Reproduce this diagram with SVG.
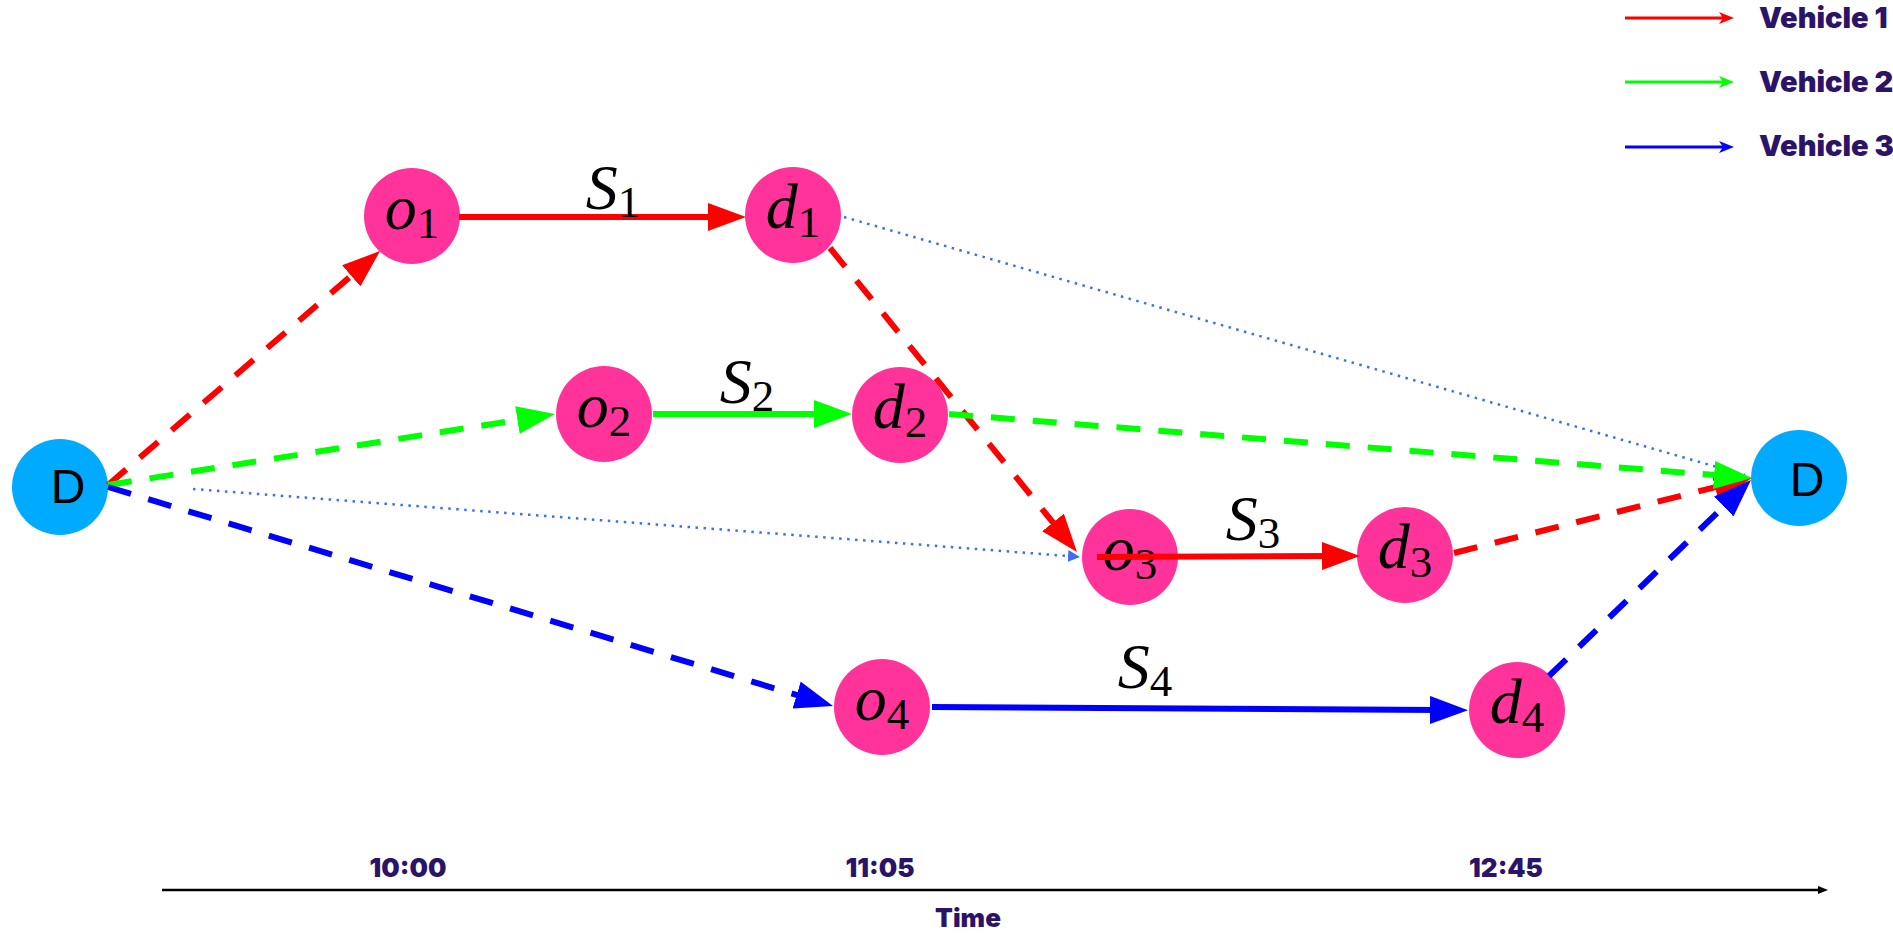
<svg xmlns="http://www.w3.org/2000/svg" width="1893" height="933" viewBox="0 0 1893 933">
<style>
.node{fill:#FF3399}
.depot{fill:#00AAFF}
.m{font-family:"Liberation Serif",serif;font-style:italic;font-size:64px;fill:#000}
.sub{font-style:normal;font-size:45px}
.dl{font-family:"Liberation Sans",Arial,sans-serif;font-size:48px;fill:#000;text-anchor:middle}
.ui{font-family:Inter,"Open Sans",sans-serif;font-weight:900;font-size:26px;fill:#2B1467}
.lg{font-size:29px}
.dash{fill:none;stroke-width:6;stroke-dasharray:24 18}
.solid{fill:none;stroke-width:6}
.dot{fill:none;stroke:#3F6FF0;stroke-width:2.5;stroke-dasharray:2.5 5.5}
</style>
<defs>
<marker id="aR" markerUnits="userSpaceOnUse" viewBox="0 0 38 28" markerWidth="38" markerHeight="28" refX="10" refY="14" orient="auto"><path d="M0,0 L38,14 L0,28 z" fill="#FF0000"/></marker>
<marker id="aG" markerUnits="userSpaceOnUse" viewBox="0 0 38 28" markerWidth="38" markerHeight="28" refX="10" refY="14" orient="auto"><path d="M0,0 L38,14 L0,28 z" fill="#00FF00"/></marker>
<marker id="aB" markerUnits="userSpaceOnUse" viewBox="0 0 38 28" markerWidth="38" markerHeight="28" refX="10" refY="14" orient="auto"><path d="M0,0 L38,14 L0,28 z" fill="#0000FF"/></marker>
<marker id="aDot" markerUnits="userSpaceOnUse" viewBox="0 0 12 12" markerWidth="12" markerHeight="12" refX="2" refY="6" orient="auto"><path d="M0,0 L12,6 L0,12 z" fill="#3F6FF0"/></marker>
<marker id="aK" markerUnits="userSpaceOnUse" viewBox="0 0 10 10" markerWidth="10" markerHeight="10" refX="2" refY="5" orient="auto"><path d="M0,1 L10,5 L0,9 z" fill="#000"/></marker>
</defs>

<g id="node-D-start"><circle class="depot" cx="60" cy="487" r="48"/><text class="dl" x="68" y="503">D</text></g>
<g id="node-D-end"><circle class="depot" cx="1799" cy="478" r="48"/><text class="dl" x="1807" y="496">D</text></g>
<g id="node-o1"><circle class="node" cx="412" cy="216" r="48"/><text class="m" x="412" y="229" text-anchor="middle">o<tspan class="sub" dy="9">1</tspan></text></g>
<g id="node-d1"><circle class="node" cx="793" cy="215" r="48"/><text class="m" x="793" y="228" text-anchor="middle">d<tspan class="sub" dy="9">1</tspan></text></g>
<g id="node-o2"><circle class="node" cx="604" cy="414" r="48"/><text class="m" x="604" y="427" text-anchor="middle">o<tspan class="sub" dy="9">2</tspan></text></g>
<g id="node-d2"><circle class="node" cx="900" cy="415" r="48"/><text class="m" x="900" y="428" text-anchor="middle">d<tspan class="sub" dy="9">2</tspan></text></g>
<g id="node-o3"><circle class="node" cx="1130" cy="557" r="48"/><text class="m" x="1130" y="570" text-anchor="middle">o<tspan class="sub" dy="9">3</tspan></text></g>
<g id="node-d3"><circle class="node" cx="1405" cy="555" r="48"/><text class="m" x="1405" y="568" text-anchor="middle">d<tspan class="sub" dy="9">3</tspan></text></g>
<g id="node-o4"><circle class="node" cx="882" cy="707" r="48"/><text class="m" x="882" y="720" text-anchor="middle">o<tspan class="sub" dy="9">4</tspan></text></g>
<g id="node-d4"><circle class="node" cx="1517" cy="710" r="48"/><text class="m" x="1517" y="723" text-anchor="middle">d<tspan class="sub" dy="9">4</tspan></text></g>

<g id="connectors">
<path class="dot" d="M193,489 L1070,556.2" marker-end="url(#aDot)"/>
<path class="dot" d="M844,217 L1745,475"/>
<path class="dash" stroke="#FF0000" d="M108,485 L358.8,269.3" marker-end="url(#aR)"/>
<path class="dash" stroke="#00FF00" d="M108,485 L527.3,418.4" marker-end="url(#aG)"/>
<path class="dash" stroke="#0000FF" d="M108,487 L806.2,697.9" marker-end="url(#aB)"/>
<path class="dash" stroke="#FF0000" d="M830,248 L1059.3,530.3" marker-end="url(#aR)"/>
<path class="dash" stroke="#FF0000" d="M1454,553 L1724.8,484.8" marker-end="url(#aR)"/>
<path class="dash" stroke="#0000FF" d="M1549,676 L1730.9,499.5" marker-end="url(#aB)"/>
<path class="dash" stroke="#00FF00" d="M949,414 L1724.1,475.8" marker-end="url(#aG)"/>
<path class="solid" stroke="#FF0000" d="M459,217 L718,217" marker-end="url(#aR)"/>
<path class="solid" stroke="#00FF00" d="M653,414 L824,414" marker-end="url(#aG)"/>
<path class="solid" stroke="#FF0000" d="M1097,557 L1332,556" marker-end="url(#aR)"/>
<path class="solid" stroke="#0000FF" d="M932,707 L1440,710" marker-end="url(#aB)"/>
</g>

<g id="labels">
<text class="m" x="613" y="209" text-anchor="middle">S<tspan class="sub" dy="8">1</tspan></text>
<text class="m" x="747" y="403" text-anchor="middle">S<tspan class="sub" dy="8">2</tspan></text>
<text class="m" x="1253" y="540" text-anchor="middle">S<tspan class="sub" dy="8">3</tspan></text>
<text class="m" x="1145" y="688" text-anchor="middle">S<tspan class="sub" dy="8">4</tspan></text>
</g>

<g id="legend">
<line x1="1625" y1="18" x2="1724" y2="18" stroke="#FF0000" stroke-width="3"/>
<path d="M1719,12 L1734,18 L1719,24 L1723,18 z" fill="#FF0000"/>
<text class="ui lg" x="1759" y="28">Vehicle 1</text>
<line x1="1625" y1="82" x2="1724" y2="82" stroke="#00FF00" stroke-width="3"/>
<path d="M1719,76 L1734,82 L1719,88 L1723,82 z" fill="#00FF00"/>
<text class="ui lg" x="1759" y="92">Vehicle 2</text>
<line x1="1625" y1="147" x2="1724" y2="147" stroke="#0000FF" stroke-width="3"/>
<path d="M1719,141 L1734,147 L1719,153 L1723,147 z" fill="#0000FF"/>
<text class="ui lg" x="1759" y="156">Vehicle 3</text>
</g>

<g id="timeline">
<line x1="162" y1="890" x2="1820" y2="890" stroke="#000" stroke-width="2.5" marker-end="url(#aK)"/>
<text class="ui" x="408" y="877" text-anchor="middle">10:00</text>
<text class="ui" x="880" y="877" text-anchor="middle">11:05</text>
<text class="ui" x="1506" y="877" text-anchor="middle">12:45</text>
<text class="ui" x="968" y="927" text-anchor="middle" font-size="28">Time</text>
</g>
</svg>
